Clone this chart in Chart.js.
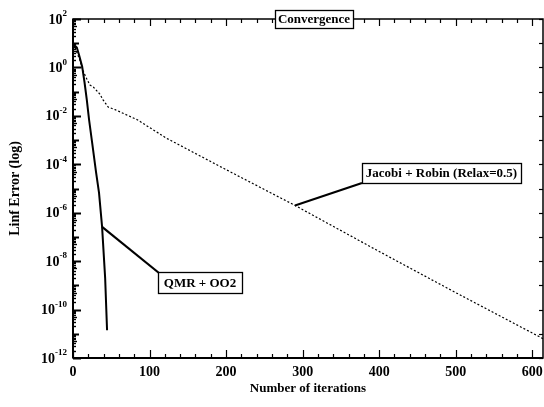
<!DOCTYPE html>
<html><head><meta charset="utf-8">
<script src="https://cdn.jsdelivr.net/npm/chart.js@4.4.1/dist/chart.umd.min.js"></script>
<style>html,body{margin:0;padding:0;background:#fff;}canvas{display:block;}</style>
</head><body>
<canvas id="c" width="544" height="407"></canvas>
<script>
// ---- data ----
const qmrIter = [0, 3, 5, 8, 12, 15, 18, 21, 25, 30, 34, 38, 42, 44.5];
const qmrErr  = [8.9, 7.6, 6.6, 3.2, 1.07, 0.25, 0.047, 0.0069, 7.8e-4, 5e-5, 6.6e-6, 2.6e-7, 2e-9, 1.4e-11];
const jacIter = [0, 3, 6, 9, 12.6, 16, 22, 26.5, 35, 39, 46, 55, 84, 122, 200, 290, 400, 500, 614];
const jacErr  = [9, 6.3, 3.5, 2.0, 0.81, 0.45, 0.19, 0.155, 0.08, 0.047, 0.023, 0.018, 0.0069, 0.0012, 6e-5, 2e-6, 2.5e-8, 5e-10, 6.3e-12];
const xTickValues = [0, 100, 200, 300, 400, 500, 600];
const yTickExponents = [2, 0, -2, -4, -6, -8, -10, -12];
const seriesNames = ['QMR + OO2', 'Jacobi + Robin (Relax=0.5)'];
const chartTitle = 'Convergence';
const xTitle = 'Number of iterations';
const yTitle = 'Linf Error (log)';
// annotation anchor points (data space) for leader lines
const qmrAnchor = {x: 38, y: 2.6e-7};
const jacAnchor = {x: 290, y: 2e-6};

const FONT = 'Liberation Serif';

const decorPlugin = {
  id: 'decor',
  afterDraw(chart) {
    const ctx = chart.ctx;
    const xs = chart.scales.x, ys = chart.scales.y;
    const a = chart.chartArea;
    ctx.save();
    ctx.strokeStyle = '#000';
    ctx.fillStyle = '#000';
    // frame
    ctx.lineWidth = 1.5;
    ctx.strokeRect(a.left, a.top, a.right - a.left, a.bottom - a.top);
    ctx.lineWidth = 2;
    ctx.beginPath(); ctx.moveTo(a.left, a.bottom); ctx.lineTo(a.right, a.bottom); ctx.stroke();
    ctx.beginPath(); ctx.moveTo(a.left, a.top); ctx.lineTo(a.left, a.bottom); ctx.stroke();
    // x ticks (bottom & top), every 20
    ctx.lineWidth = 1.2;
    for (let v = 0; v <= xs.max; v += 20) {
      const px = Math.round(xs.getPixelForValue(v)) + 0.5;
      const major = v % 100 === 0;
      ctx.beginPath(); ctx.moveTo(px, a.bottom); ctx.lineTo(px, a.bottom - (major ? 8 : 4)); ctx.stroke();
      ctx.beginPath(); ctx.moveTo(px, a.top); ctx.lineTo(px, a.top + (major ? 7 : 4)); ctx.stroke();
    }
    // y ticks left (major + minor), right (decades)
    for (let e = -12; e <= 2; e++) {
      const py = Math.round(ys.getPixelForValue(Math.pow(10, e))) + 0.5;
      ctx.lineWidth = 2;
      ctx.beginPath(); ctx.moveTo(a.left, py); ctx.lineTo(a.left + (e % 2 === 0 ? 8 : 6), py); ctx.stroke();
      ctx.lineWidth = 1.2;
      ctx.beginPath(); ctx.moveTo(a.right, py); ctx.lineTo(a.right - 4, py); ctx.stroke();
      if (e < 2) {
        for (let m = 2; m <= 9; m++) {
          const pm = Math.round(ys.getPixelForValue(m * Math.pow(10, e))) + 0.5;
          ctx.lineWidth = 1.4;
          ctx.beginPath(); ctx.moveTo(a.left, pm); ctx.lineTo(a.left + (m === 5 ? 4 : 3), pm); ctx.stroke();
        }
      }
    }
    // y tick labels with superscript exponents
    ctx.textBaseline = 'middle';
    ctx.textAlign = 'left';
    yTickExponents.forEach(e => {
      const py = ys.getPixelForValue(Math.pow(10, e));
      const expStr = String(e);
      ctx.font = 'bold 9px ' + FONT;
      const ew = ctx.measureText(expStr).width;
      ctx.font = 'bold 14px ' + FONT;
      const bw = ctx.measureText('10').width;
      const right = a.left - 6;
      ctx.fillText('10', right - ew - bw, py + 1);
      ctx.font = 'bold 9px ' + FONT;
      ctx.fillText(expStr, right - ew, py - 5);
    });
    // leader lines
    ctx.lineWidth = 2.2;
    ctx.beginPath();
    ctx.moveTo(xs.getPixelForValue(jacAnchor.x), ys.getPixelForValue(jacAnchor.y));
    ctx.lineTo(362, 183);
    ctx.stroke();
    ctx.beginPath();
    ctx.moveTo(xs.getPixelForValue(qmrAnchor.x), ys.getPixelForValue(qmrAnchor.y));
    ctx.lineTo(159, 273);
    ctx.stroke();
    // boxes
    function box(text, x0, y0, x1, y1) {
      ctx.fillStyle = '#fff';
      ctx.fillRect(x0, y0, x1 - x0, y1 - y0);
      ctx.lineWidth = 1.3;
      ctx.strokeStyle = '#000';
      ctx.strokeRect(x0 + 0.5, y0 + 0.5, x1 - x0, y1 - y0);
      ctx.fillStyle = '#000';
      ctx.font = 'bold 13px ' + FONT;
      ctx.textAlign = 'center';
      ctx.textBaseline = 'middle';
      ctx.fillText(text, (x0 + x1) / 2, (y0 + y1) / 2 + 1);
    }
    box(chartTitle, 275, 10, 353, 28);
    box(seriesNames[1], 362, 163, 521, 183);
    box(seriesNames[0], 158, 272, 242, 293);
    ctx.restore();
  }
};

new Chart(document.getElementById('c'), {
  type: 'line',
  data: {
    datasets: [
      {
        label: seriesNames[0],
        data: qmrIter.map((x, i) => ({x, y: qmrErr[i]})),
        borderColor: '#000', borderWidth: 2, pointRadius: 0, tension: 0, fill: false
      },
      {
        label: seriesNames[1],
        data: jacIter.map((x, i) => ({x, y: jacErr[i]})),
        borderColor: '#000', borderWidth: 1.2, borderDash: [2, 2], pointRadius: 0, tension: 0, fill: false
      }
    ]
  },
  options: {
    responsive: false,
    animation: false,
    devicePixelRatio: 1,
    layout: {padding: {top: 19, right: 1, left: 0, bottom: 0}},
    plugins: {legend: {display: false}, tooltip: {enabled: false}, title: {display: false}},
    scales: {
      x: {
        type: 'linear', min: 0, max: 614,
        grid: {display: false, drawTicks: false},
        border: {display: false},
        ticks: {
          stepSize: 100, includeBounds: false, autoSkip: false, maxRotation: 0, padding: 6,
          color: '#000', font: {family: FONT, size: 14, weight: 'bold'},
          callback: (v) => xTickValues.includes(v) ? String(v) : ''
        },
        title: {display: true, text: xTitle, color: '#000', font: {family: FONT, size: 13, weight: 'bold'}, padding: {top: 0, bottom: 11}},
        afterFit(s) { s.height = 49; s.paddingLeft = 0; s.paddingRight = 0; }
      },
      y: {
        type: 'logarithmic', min: 1e-12, max: 100,
        grid: {display: false, drawTicks: false},
        border: {display: false},
        ticks: {display: false},
        title: {display: true, text: yTitle, color: '#000', font: {family: FONT, size: 14, weight: 'bold'}, padding: {top: 7, bottom: 0}},
        afterFit(s) { s.width = 73; s.paddingTop = 0; s.paddingBottom = 0; }
      }
    }
  },
  plugins: [decorPlugin]
});
</script>
</body></html>
